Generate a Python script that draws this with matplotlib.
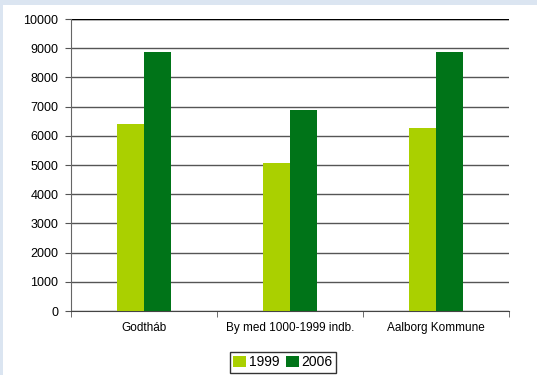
import numpy as np
import matplotlib.pyplot as plt
from matplotlib.patches import Rectangle

# Data
categories = ['Godtháb', 'By med 1000-1999 indb.', 'Aalborg Kommune']
values_1999 = [6400, 5070, 6280]
values_2006 = [8880, 6890, 8880]

plt.rcParams['font.family'] = ['Liberation Sans', 'DejaVu Sans']

fig = plt.figure(figsize=(5.37, 3.75), dpi=100, facecolor='#dbe5f1')
# white panel inside the light blue frame
fig.add_artist(Rectangle((3 / 537, 0), 1, 1 - 5 / 375, transform=fig.transFigure,
                         facecolor='white', edgecolor='none', zorder=-5))

ax = fig.add_axes([71 / 537, 64 / 375, 438 / 537, 292 / 375])
ax.set_facecolor('white')

x = np.arange(len(categories))
w = 0.185
ax.bar(x - w / 2, values_1999, w, color='#aad000', label='1999', zorder=3)
ax.bar(x + w / 2, values_2006, w, color='#007418', label='2006', zorder=3)

ax.set_ylim(0, 10000)
ax.set_xlim(-0.5, 2.5)
ax.set_yticks(np.arange(0, 10001, 1000))
ax.yaxis.grid(True, color='#555555', linewidth=1.0, zorder=0)
ax.set_axisbelow(True)

ax.set_xticks(x)
ax.set_xticklabels(categories)
ax.set_xticks([-0.5, 0.5, 1.5, 2.5], minor=True)
ax.tick_params(axis='x', which='major', length=0, pad=8, labelsize=8.5)
ax.tick_params(axis='x', which='minor', length=4, color='#555555')
ax.tick_params(axis='y', length=4, color='#555555', labelsize=9, pad=5)

for s in ['top', 'right']:
    ax.spines[s].set_visible(False)
ax.spines['left'].set_color('#666666')
ax.spines['bottom'].set_color('#444444')
ax.axhline(10000, color='black', linewidth=1.0, zorder=2)

fig.legend(loc='upper center', bbox_to_anchor=(283 / 537, 1 - 352 / 375), ncol=2,
           fontsize=10, frameon=True, fancybox=False, edgecolor='black',
           handlelength=0.9, handleheight=0.9, handletextpad=0.2, columnspacing=0.5,
           borderpad=0.25, borderaxespad=0)

fig.savefig('out.png', dpi=100, facecolor=fig.get_facecolor())
